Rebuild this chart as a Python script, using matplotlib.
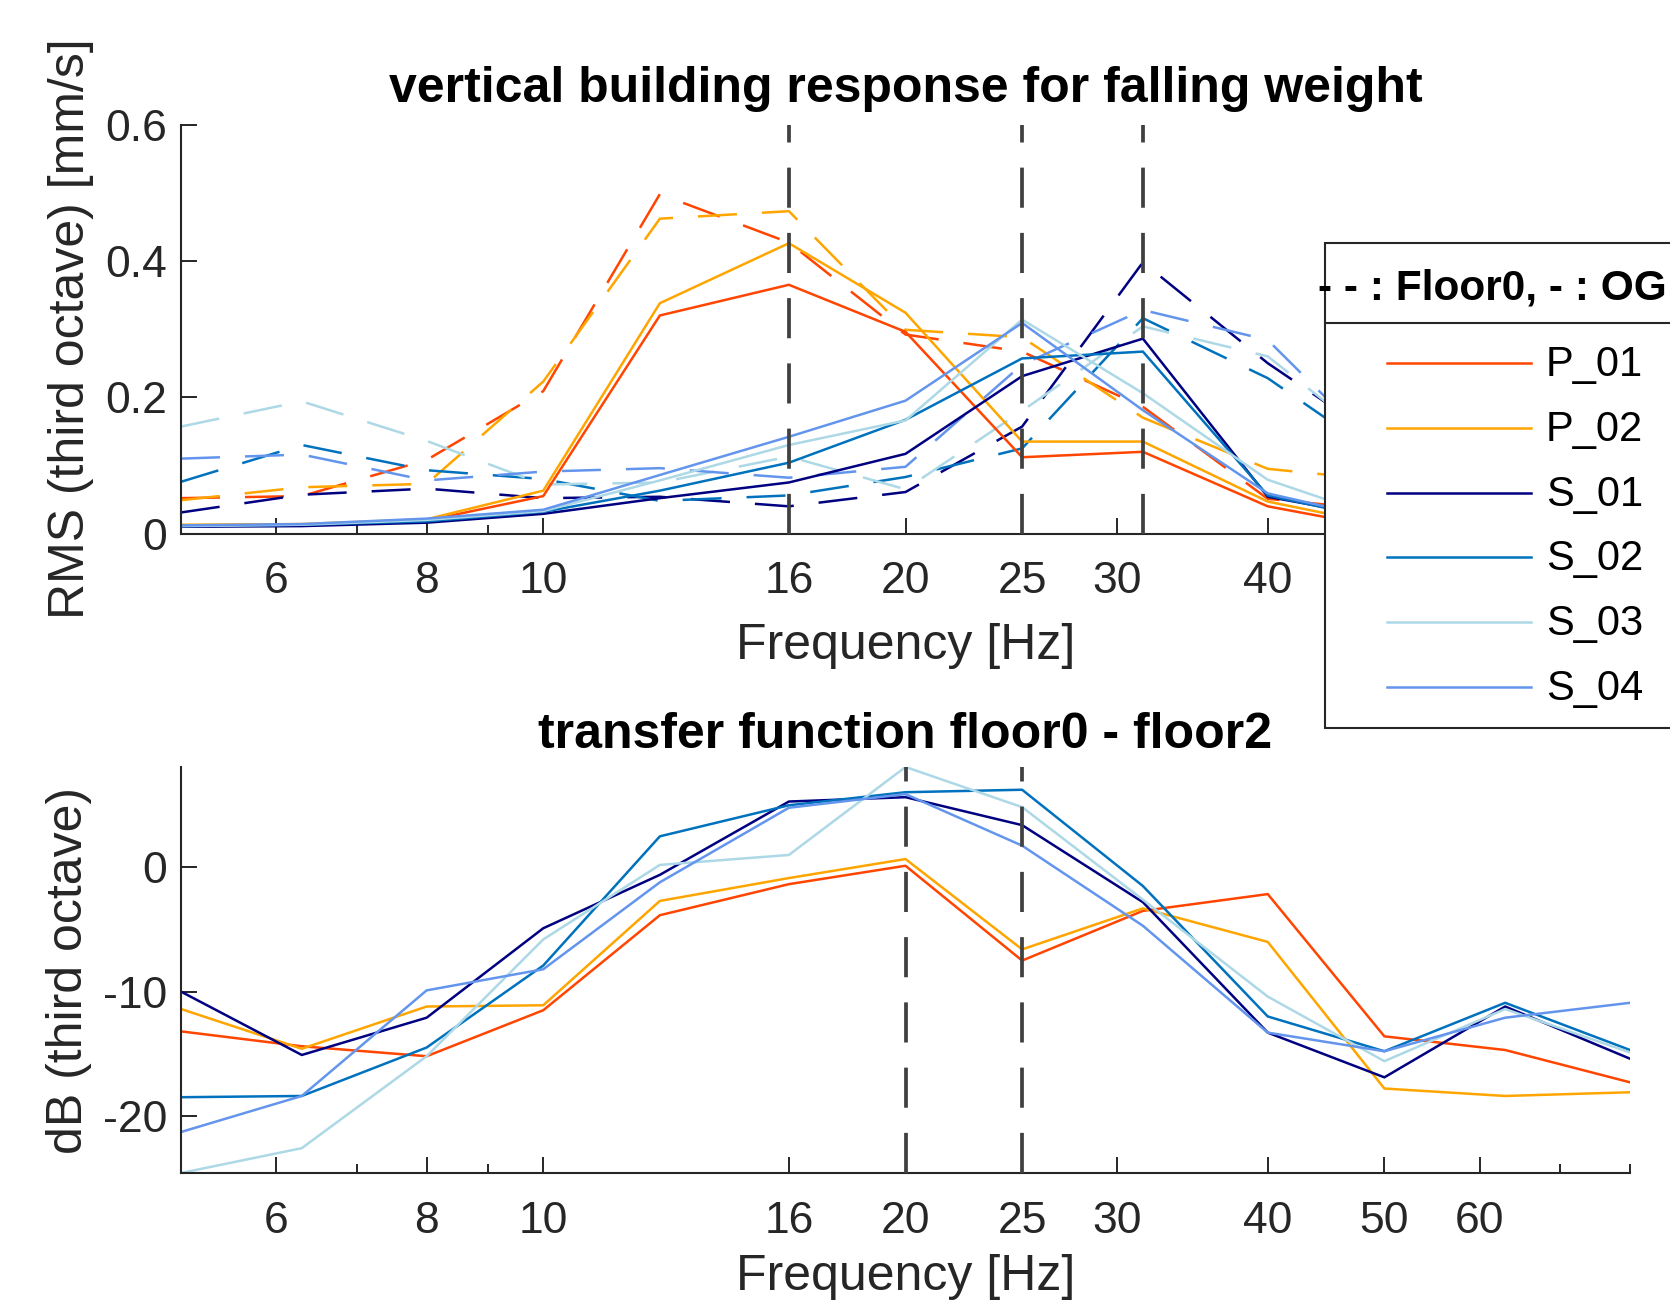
import matplotlib
matplotlib.use('Agg')
import matplotlib.pyplot as plt
from matplotlib.patches import Rectangle
from matplotlib.lines import Line2D
from matplotlib.ticker import FixedLocator, FixedFormatter, NullFormatter

plt.rcParams['font.family'] = ['Liberation Sans', 'DejaVu Sans']

# ---------------- data ----------------
freqs = [5, 6.3, 8, 10, 12.5, 16, 20, 25, 31.5, 40, 50, 63, 80]
names = ['P_01', 'P_02', 'S_01', 'S_02', 'S_03', 'S_04']
colors = ['#FF4500', '#FFA500', '#000080', '#0072BD', '#ADD8E6', '#6495ED']

# RMS (third octave) [mm/s], OG (solid)
og_P01 = [0.012, 0.013, 0.019, 0.055, 0.320, 0.365, 0.296, 0.112, 0.120, 0.040, 0.008, 0.006, 0.005]
og_P02 = [0.013, 0.014, 0.021, 0.063, 0.338, 0.426, 0.324, 0.135, 0.135, 0.047, 0.012, 0.009, 0.007]
og_S01 = [0.010, 0.011, 0.016, 0.029, 0.052, 0.075, 0.117, 0.231, 0.286, 0.054, 0.023, 0.015, 0.010]
og_S02 = [0.011, 0.013, 0.018, 0.032, 0.063, 0.104, 0.167, 0.257, 0.267, 0.056, 0.019, 0.013, 0.009]
og_S03 = [0.011, 0.013, 0.020, 0.033, 0.078, 0.130, 0.166, 0.314, 0.206, 0.079, 0.021, 0.014, 0.010]
og_S04 = [0.012, 0.014, 0.022, 0.035, 0.086, 0.142, 0.195, 0.309, 0.181, 0.059, 0.020, 0.014, 0.010]

# RMS (third octave) [mm/s], Floor0 (dashed)
f0_P01 = [0.052, 0.055, 0.108, 0.209, 0.498, 0.427, 0.292, 0.267, 0.186, 0.051, 0.034, 0.020, 0.015]
f0_P02 = [0.049, 0.068, 0.073, 0.223, 0.462, 0.473, 0.299, 0.288, 0.170, 0.095, 0.078, 0.050, 0.040]
f0_S01 = [0.031, 0.057, 0.066, 0.052, 0.054, 0.040, 0.061, 0.157, 0.398, 0.250, 0.134, 0.080, 0.050]
f0_S02 = [0.076, 0.130, 0.093, 0.080, 0.048, 0.056, 0.083, 0.125, 0.316, 0.228, 0.110, 0.070, 0.050]
f0_S03 = [0.157, 0.194, 0.136, 0.072, 0.075, 0.113, 0.065, 0.180, 0.304, 0.260, 0.125, 0.080, 0.050]
f0_S04 = [0.110, 0.116, 0.078, 0.091, 0.096, 0.082, 0.098, 0.248, 0.328, 0.284, 0.114, 0.070, 0.050]

# transfer function floor0 - floor2 [dB]
tf_P01 = [-13.2, -14.4, -15.2, -11.5, -3.85, -1.35, 0.13, -7.5, -3.5, -2.15, -13.6, -14.7, -17.3]
tf_P02 = [-11.4, -14.6, -11.2, -11.1, -2.7, -0.86, 0.67, -6.6, -3.3, -6.0, -17.8, -18.4, -18.1]
tf_S01 = [-10.0, -15.1, -12.1, -4.9, -0.6, 5.3, 5.65, 3.4, -2.8, -13.3, -16.9, -11.2, -15.4]
tf_S02 = [-18.5, -18.4, -14.5, -7.9, 2.5, 5.0, 6.05, 6.25, -1.5, -12.0, -14.8, -10.9, -14.7]
tf_S03 = [-24.6, -22.6, -15.2, -5.8, 0.2, 1.0, 8.08, 4.85, -2.6, -10.4, -15.6, -11.4, -14.9]
tf_S04 = [-21.3, -18.4, -9.9, -8.2, -1.2, 4.8, 5.9, 1.75, -4.7, -13.3, -14.8, -12.1, -10.9]

og_all = [og_P01, og_P02, og_S01, og_S02, og_S03, og_S04]
f0_all = [f0_P01, f0_P02, f0_S01, f0_S02, f0_S03, f0_S04]
tf_all = [tf_P01, tf_P02, tf_S01, tf_S02, tf_S03, tf_S04]

top_marks = [16, 25, 31.5]
bottom_marks = [20, 25]

xtick_vals = [6, 8, 10, 16, 20, 25, 30, 40, 50, 60]
xtick_labels = ['6', '8', '10', '16', '20', '25', '30', '40', '50', '60']
xminor_vals = [7, 9, 70, 80]
top_yticks = [0, 0.2, 0.4, 0.6]
top_ylabels = ['0', '0.2', '0.4', '0.6']
bot_yticks = [-20, -10, 0]
bot_ylabels = ['-20', '-10', '0']

legend_title = '- - : Floor0, - : OG'

# ---------------- figure ----------------
W, H = 1670, 1305
fig = plt.figure(figsize=(W / 100, H / 100), dpi=100)

def fx(px):
    return px / W

def fy(py):
    return 1 - py / H

ax1 = fig.add_axes([fx(181), fy(533.6), fx(1630) - fx(181), fy(124.6) - fy(533.6)])
ax2 = fig.add_axes([fx(181), fy(1173), fx(1630) - fx(181), fy(767) - fy(1173)])

TXT = '#262626'
SOLID_LW = 1.8
DASH = (0, (15.6, 10))
VL_LW = 2.7
VL_DASH = (0, (10.7, 6.7))

for ax in (ax1, ax2):
    ax.set_xscale('log')
    ax.set_xlim(5, 80)
    for s in ('top', 'right'):
        ax.spines[s].set_visible(False)
    for s in ('left', 'bottom'):
        ax.spines[s].set_color(TXT)
        ax.spines[s].set_linewidth(1.5)
    ax.xaxis.set_major_locator(FixedLocator(xtick_vals))
    ax.xaxis.set_major_formatter(FixedFormatter(xtick_labels))
    ax.xaxis.set_minor_locator(FixedLocator(xminor_vals))
    ax.xaxis.set_minor_formatter(NullFormatter())
    ax.tick_params(axis='both', which='major', direction='in', length=11.5, width=1.4,
                   colors=TXT, labelsize=32)
    ax.tick_params(axis='x', which='major', pad=20)
    ax.tick_params(axis='y', which='major', pad=10)
    ax.tick_params(axis='x', which='minor', direction='in', length=6.5, width=1.4, colors=TXT)
    ax.tick_params(axis='y', which='minor', left=False)

ax1.set_xlabel('Frequency [Hz]', fontsize=36, color=TXT, labelpad=15)
ax2.set_xlabel('Frequency [Hz]', fontsize=36, color=TXT, labelpad=9)

# top panel
for ys, c in zip(f0_all, colors):
    ax1.plot(freqs, ys, color=c, lw=SOLID_LW, linestyle=DASH, zorder=2)
for ys, c in zip(og_all, colors):
    ax1.plot(freqs, ys, color=c, lw=SOLID_LW, zorder=2)
for m in top_marks:
    ax1.axvline(m, color='#404040', lw=VL_LW, linestyle=VL_DASH, zorder=3)
ax1.set_ylim(0, 0.6)
ax1.yaxis.set_major_locator(FixedLocator(top_yticks))
ax1.yaxis.set_major_formatter(FixedFormatter(top_ylabels))
ax1.set_ylabel('RMS (third octave) [mm/s]', fontsize=36, color=TXT, labelpad=8)
ax1.set_title('vertical building response for falling weight', fontsize=36,
              fontweight='bold', pad=16.5)

# bottom panel
for ys, c in zip(tf_all, colors):
    ax2.plot(freqs, ys, color=c, lw=SOLID_LW, zorder=2)
for m in bottom_marks:
    ax2.axvline(m, color='#404040', lw=VL_LW, linestyle=VL_DASH, zorder=3)
ymin = min(min(t) for t in tf_all)
ymax = max(max(t) for t in tf_all)
ax2.set_ylim(ymin, ymax)
ax2.yaxis.set_major_locator(FixedLocator(bot_yticks))
ax2.yaxis.set_major_formatter(FixedFormatter(bot_ylabels))
ax2.set_ylabel('dB (third octave)', fontsize=36, color=TXT, labelpad=8)
ax2.set_title('transfer function floor0 - floor2', fontsize=36, fontweight='bold', pad=14)

fig.align_ylabels([ax1, ax2])

# ---------------- legend (drawn manually, box runs past the figure edge) ----------------
box_l, box_t, box_b, sep_y = 1325, 242.7, 728, 323
fig.add_artist(Rectangle((fx(box_l), fy(box_b)), fx(1700) - fx(box_l), fy(box_t) - fy(box_b),
                         transform=fig.transFigure, facecolor='white', edgecolor=TXT,
                         lw=1.5, zorder=5))
fig.add_artist(Line2D([fx(box_l), fx(1700)], [fy(sep_y), fy(sep_y)], transform=fig.transFigure,
                      color=TXT, lw=1.5, zorder=6))
fig.text(fx(1318), fy(288), legend_title, fontsize=30.5, fontweight='bold', ha='left',
         va='center', zorder=7)
row_y0, row_dy = 363, 64.8
for i, (nm, c) in enumerate(zip(names, colors)):
    yy = row_y0 + i * row_dy
    fig.add_artist(Line2D([fx(1387), fx(1531)], [fy(yy), fy(yy)], transform=fig.transFigure,
                          color=c, lw=SOLID_LW, zorder=7))
    fig.text(fx(1546), fy(yy + 2), nm, fontsize=30, ha='left', va='center', color='black', zorder=7)

fig.savefig('out.png', dpi=100)
